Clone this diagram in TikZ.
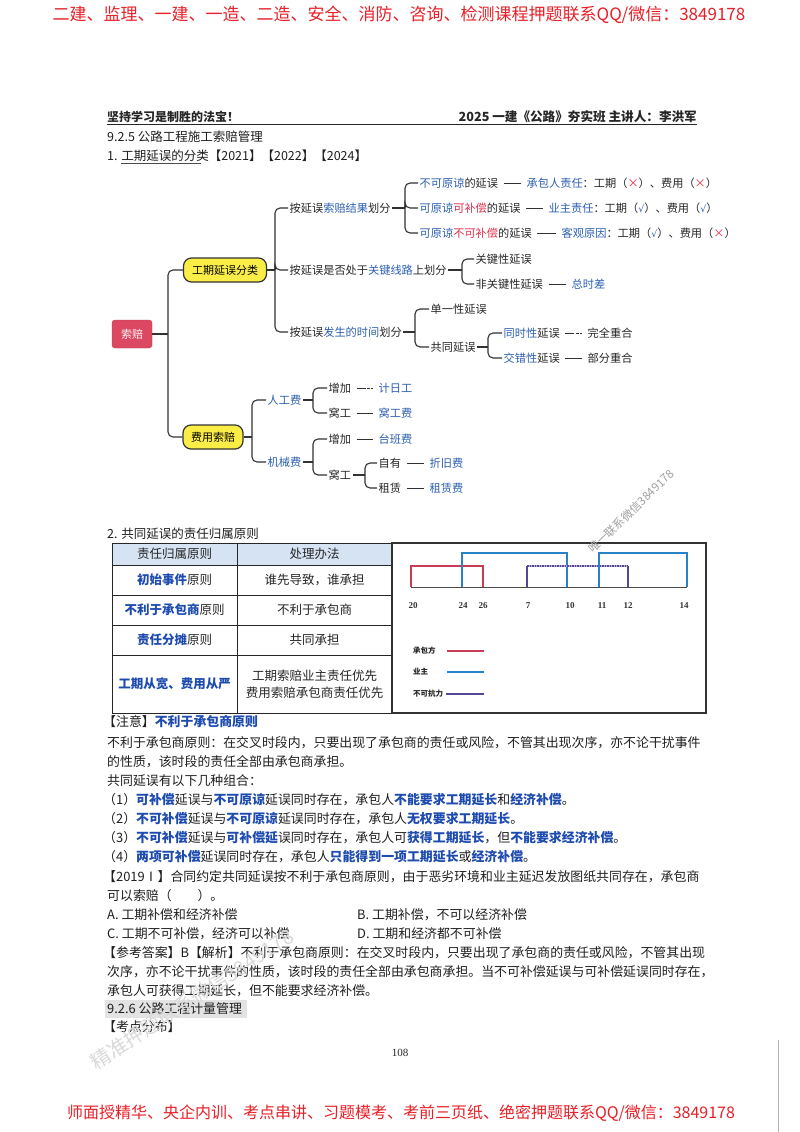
\documentclass[tikz,border=0pt]{standalone}
\usepackage{fontspec}
\setmainfont{Noto Sans CJK SC}
\newfontfamily\serifnum{Liberation Serif}
\newfontfamily\dejavu{DejaVu Sans}
\usetikzlibrary{calc}
\definecolor{hdred}{RGB}{232,32,40}
\definecolor{mblue}{RGB}{45,95,175}
\definecolor{mred}{RGB}{225,45,75}
\definecolor{bblue}{RGB}{30,75,175}
\definecolor{srfill}{RGB}{220,72,98}
\definecolor{ylw}{RGB}{250,238,70}
\definecolor{thead}{RGB}{214,227,242}
\definecolor{cred}{RGB}{200,60,85}
\definecolor{cblue}{RGB}{40,130,200}
\definecolor{cpur}{RGB}{85,70,150}
\definecolor{lnc}{RGB}{50,50,50}
\newcommand{\mbl}[1]{{\color{mblue}#1}}
\newcommand{\mrd}[1]{{\color{mred}#1}}
\newcommand{\bbl}[1]{{\color{bblue}\bfseries #1}}
\newcommand{\ck}{\mbl{{\dejavu\fontsize{9.5}{11}\selectfont √}}}
\tikzset{
  mt/.style={anchor=west, inner sep=1.5pt, font=\fontsize{11.2}{13}\selectfont, text=black!85},
  conn/.style={draw=lnc, line width=1.1pt, rounded corners=5pt},
  sepl/.style={draw=lnc, line width=1pt, shorten <=4pt, shorten >=4pt},
  sepd/.style={sepl, dash pattern=on 9pt off 1.2pt on 3pt off 1.2pt},
  ybox/.style={draw=black!80, line width=1.2pt, fill=ylw, rounded corners=8pt, minimum height=24pt, inner sep=1pt, font=\fontsize{11}{13}\selectfont},
  srbox/.style={draw=srfill!85!black, fill=srfill, rounded corners=3pt, minimum width=40pt, minimum height=28pt, inner sep=1pt, text=white!92!pink, font=\fontsize{11}{13}\selectfont},
  body/.style={anchor=west, inner sep=0pt, font=\fontsize{12.9}{15}\selectfont, text=black!88},
  tc/.style={inner sep=0pt, font=\fontsize{12.5}{17}\selectfont, text=black!85, align=center},
  num/.style={inner sep=0pt, font=\serifnum\bfseries\fontsize{9}{10}\selectfont, text=black!80},
  leg/.style={anchor=west, inner sep=0pt, font=\bfseries\fontsize{7.5}{9}\selectfont, text=black!85},
  cl/.style={line width=1.4pt}
}
\begin{document}
\begin{tikzpicture}[x=1pt,y=-1pt]
\useasboundingbox (0,0) rectangle (800,1132);
\fill[white] (0,0) rectangle (800,1132);

% top and bottom red banners
\node[text=hdred, inner sep=0pt, font=\fontsize{17}{19}\selectfont] (topban) at (399,15) {二建、监理、一建、一造、二造、安全、消防、咨询、检测课程押题联系QQ/微信：3849178};
\node[text=hdred, inner sep=0pt, font=\fontsize{16}{18}\selectfont] (botban) at (401,1113) {师面授精华、央企内训、考点串讲、习题模考、考前三页纸、绝密押题联系QQ/微信：3849178};
\draw[gray!60, line width=0.8pt] (778,1040) -- (778,1132);

% page header
\node[anchor=west, inner sep=0pt, font=\bfseries\fontsize{12}{13}\selectfont, text=black!85] (hl) at (107,117) {坚持学习是制胜的法宝！};
\node[anchor=east, inner sep=0pt, font=\bfseries\fontsize{12.6}{13}\selectfont, text=black!85] (hr) at (697,117) {2025 一建《公路》夯实班 主讲人：李洪军};
\draw[black!85, line width=1.8pt] (107,124.5) -- (697,124.5);
\node[body, font=\fontsize{12.5}{14}\selectfont] (s925) at (107,137) {9.2.5 公路工程施工索赔管理};
\node[body, font=\fontsize{12.5}{14}\selectfont] (s1) at (107,156) {1. 工期延误的分类【2021】【2022】【2024】};
\draw[black!70, line width=0.6pt] (121,163) -- (201,163);

% ===== mind map =====
\node[srbox] (sp) at (132,334) {索赔};
\node[ybox, minimum width=83pt] (gq) at (225,270) {工期延误分类};
\node[ybox, minimum width=60pt] (fy) at (213,437) {费用索赔};
\coordinate (t0) at (168,334);
\draw[conn] (sp.east) -- (t0);
\draw[conn] (t0) |- (gq.west);
\draw[conn] (t0) |- (fy.west);

% level 1
\node[mt] (a1) at (288,208) {按延误\mbl{索赔结果}划分};
\node[mt] (a2) at (288,270) {按延误是否处于\mbl{关键线路}上划分};
\node[mt] (a3) at (288,332) {按延误\mbl{发生的时间}划分};
\coordinate (k0) at (275,270);
\draw[conn] (gq.east) -- (k0);
\foreach \c in {a1,a2,a3} \draw[conn] (k0) |- (\c.west);

% result classification
\node[mt] (c1) at (418,183) {\mbl{不可原谅}的延误};
\node[mt] (c2) at (418,208) {\mbl{可原谅}\mrd{可补偿}的延误};
\node[mt] (c3) at (418,233) {\mbl{可原谅}\mrd{不可补偿}的延误};
\coordinate (k1) at (405,208);
\draw[conn] (a1.east) -- (k1);
\foreach \c in {c1,c2,c3} \draw[conn] (k1) |- (\c.west);
\node[mt] (d1) at (525,183) {\mbl{承包人责任}：工期（\mrd{×}）、费用（\mrd{×}）};
\node[mt] (d2) at (547,208) {\mbl{业主责任}：工期（\ck）、费用（\ck）};
\node[mt] (d3) at (560,233) {\mbl{客观原因}：工期（\ck）、费用（\mrd{×}）};
\draw[sepl] (c1) -- (d1);
\draw[sepl] (c2) -- (d2);
\draw[sepl] (c3) -- (d3);

% critical path
\node[mt] (e1) at (474,259) {关键性延误};
\node[mt] (e2) at (474,284) {非关键性延误};
\coordinate (k2) at (462,270);
\draw[conn] (a2.east) -- (k2);
\foreach \c in {e1,e2} \draw[conn] (k2) |- (\c.west);
\node[mt] (e3) at (570,284) {\mbl{总时差}};
\draw[sepl] (e2) -- (e3);

% time
\node[mt] (f1) at (429,309) {单一性延误};
\node[mt] (f2) at (429,347) {共同延误};
\coordinate (k3) at (415,332);
\draw[conn] (a3.east) -- (k3);
\foreach \c in {f1,f2} \draw[conn] (k3) |- (\c.west);
\node[mt] (g1) at (502,333) {\mbl{同时性}延误};
\node[mt] (g2) at (502,358) {\mbl{交错性}延误};
\coordinate (k4) at (488,347);
\draw[conn] (f2.east) -- (k4);
\foreach \c in {g1,g2} \draw[conn] (k4) |- (\c.west);
\node[mt] (h1) at (586,333) {完全重合};
\node[mt] (h2) at (586,358) {部分重合};
\draw[sepd] (g1) -- (h1);
\draw[sepl] (g2) -- (h2);

% cost claims
\node[mt] (p1) at (266,400) {\mbl{人工费}};
\node[mt] (p2) at (266,462) {\mbl{机械费}};
\coordinate (k5) at (252,437);
\draw[conn] (fy.east) -- (k5);
\foreach \c in {p1,p2} \draw[conn] (k5) |- (\c.west);
\node[mt] (q1) at (327,388) {增加};
\node[mt] (q2) at (327,413) {窝工};
\coordinate (k6) at (313,400);
\draw[conn] (p1.east) -- (k6);
\foreach \c in {q1,q2} \draw[conn] (k6) |- (\c.west);
\node[mt] (r1) at (377,388) {\mbl{计日工}};
\node[mt] (r2) at (377,413) {\mbl{窝工费}};
\draw[sepd] (q1) -- (r1);
\draw[sepl] (q2) -- (r2);
\node[mt] (q3) at (327,439) {增加};
\node[mt] (q4) at (327,475) {窝工};
\coordinate (k7) at (313,462);
\draw[conn] (p2.east) -- (k7);
\foreach \c in {q3,q4} \draw[conn] (k7) |- (\c.west);
\node[mt] (r3) at (377,439) {\mbl{台班费}};
\draw[sepl] (q3) -- (r3);
\node[mt] (s1n) at (377,463) {自有};
\node[mt] (s2n) at (377,488) {租赁};
\coordinate (k8) at (365,475);
\draw[conn] (q4.east) -- (k8);
\foreach \c in {s1n,s2n} \draw[conn] (k8) |- (\c.west);
\node[mt] (t1) at (428,463) {\mbl{折旧费}};
\node[mt] (t2) at (428,488) {\mbl{租赁费}};
\draw[sepl] (s1n) -- (t1);
\draw[sepl] (s2n) -- (t2);

% ===== section 2 =====
\node[body, font=\fontsize{12.5}{14}\selectfont] (s2) at (107,534) {2. 共同延误的责任归属原则};

% table
\fill[thead] (112,543) rectangle (392,565);
\draw[black!85, line width=0.9pt] (112,543) rectangle (392,713);
\foreach \yy in {565,595,625,655} \draw[black!85, line width=0.9pt] (112,\yy) -- (392,\yy);
\draw[black!85, line width=0.9pt] (237,543) -- (237,713);
\node[tc] (th1) at (174.5,554) {责任归属原则};
\node[tc] (th2) at (314.5,554) {处理办法};
\node[tc] (r1l) at (174.5,580) {\bbl{初始事件}原则};
\node[tc] (r1r) at (314.5,580) {谁先导致，谁承担};
\node[tc] (r2l) at (174.5,610) {\bbl{不利于承包商}原则};
\node[tc] (r2r) at (314.5,610) {不利于承包商};
\node[tc] (r3l) at (174.5,640) {\bbl{责任分摊}原则};
\node[tc] (r3r) at (314.5,640) {共同承担};
\node[tc] (r4l) at (174.5,684) {\bbl{工期从宽、费用从严}};
\node[tc] (r4r) at (314.5,684) {工期索赔业主责任优先\\费用索赔承包商责任优先};

% chart
\draw[black!80, line width=1.1pt] (392,543) rectangle (706,713);
\draw[black!70, line width=0.9pt] (411,587) -- (687,587);
\draw[cl, cred] (411,587) -- (411,566) -- (483,566) -- (483,587);
\draw[cl, cblue] (462,587) -- (462,553) -- (567,553) -- (567,587);
\draw[cl, cpur!45] (527,566) -- (628,566);
\draw[cl, cpur] (527,587) -- (527,566);
\draw[cl, cpur, dash pattern=on 1.5pt off 1pt] (527,566) -- (628,566);
\draw[cl, cpur] (628,566) -- (628,587);
\draw[cl, cblue] (599,587) -- (599,553) -- (687,553) -- (687,587);
\node[num] (n20) at (413,606) {20};
\node[num] (n24) at (463,606) {24};
\node[num] (n26) at (483,606) {26};
\node[num] (n7) at (528,606) {7};
\node[num] (n10) at (570,606) {10};
\node[num] (n11) at (602,606) {11};
\node[num] (n12) at (628,606) {12};
\node[num] (n14) at (684,606) {14};
\node[leg] (lg1) at (413,651) {承包方};
\node[leg] (lg2) at (413,672) {业主};
\node[leg] (lg3) at (413,694) {不可抗力};
\draw[cl, cred] (447,651) -- (484,651);
\draw[cl, cblue] (447,672) -- (484,672);
\draw[cl, cpur] (446,694) -- (484,694);
\node[rotate=44, anchor=west, inner sep=0pt, text=gray!75, font=\fontsize{11.5}{12}\selectfont] (wm1) at (590,551) {唯一联系微信3849178};

% ===== text block =====
\node[body] (l0) at (103,722) {【注意】\bbl{不利于承包商原则}};
\node[body] (l1) at (107,743) {不利于承包商原则：在交叉时段内，只要出现了承包商的责任或风险，不管其出现次序，亦不论干扰事件};
\node[body] (l2) at (107,762) {的性质，该时段的责任全部由承包商承担。};
\node[body] (l3) at (107,781) {共同延误有以下几种组合：};
\node[body] (l4) at (103,800) {（1）\bbl{可补偿}延误与\bbl{不可原谅}延误同时存在，承包人\bbl{不能要求工期延长}和\bbl{经济补偿}。};
\node[body] (l5) at (103,819) {（2）\bbl{不可补偿}延误与\bbl{不可原谅}延误同时存在，承包人\bbl{无权要求工期延长}。};
\node[body] (l6) at (103,838) {（3）\bbl{不可补偿}延误与\bbl{可补偿延}误同时存在，承包人可\bbl{获得工期延长}，但\bbl{不能要求经济补偿}。};
\node[body] (l7) at (103,857) {（4）\bbl{两项可补偿}延误同时存在，承包人\bbl{只能得到一项工期延长}或\bbl{经济补偿}。};
\node[body] (l8) at (103,877) {【2019Ⅰ】合同约定共同延误按不利于承包商原则，由于恶劣环境和业主延迟发放图纸共同存在，承包商};
\node[body] (l9) at (107,896) {可以索赔（\quad\quad）。};
\node[body] (oa) at (107,915) {A. 工期补偿和经济补偿};
\node[body] (ob) at (357,915) {B. 工期补偿，不可以经济补偿};
\node[body] (oc) at (107,934) {C. 工期不可补偿，经济可以补偿};
\node[body] (od) at (357,934) {D. 工期和经济都不可补偿};
\node[body] (l10) at (103,953) {【参考答案】B【解析】不利于承包商原则：在交叉时段内，只要出现了承包商的责任或风险，不管其出现};
\node[body] (l11) at (107,972) {次序，亦不论干扰事件的性质，该时段的责任全部由承包商承担。当不可补偿延误与可补偿延误同时存在，};
\node[body] (l12) at (107,991) {承包人可获得工期延长，但不能要求经济补偿。};
\fill[gray!22] (105,1000) rectangle (247,1018);
\node[body] (l13) at (107,1009) {9.2.6 公路工程计量管理};
\node[body] (l14) at (103,1027) {【考点分布】};
\node[rotate=33, anchor=west, inner sep=0pt, text=gray!30, font=\fontsize{20}{21}\selectfont] (wm2) at (92,1064) {精准押题联系微信3849178};
\node[inner sep=0pt, font=\serifnum\fontsize{11}{12}\selectfont, text=black!85] (pg) at (400,1053) {108};
\end{tikzpicture}
\end{document}
